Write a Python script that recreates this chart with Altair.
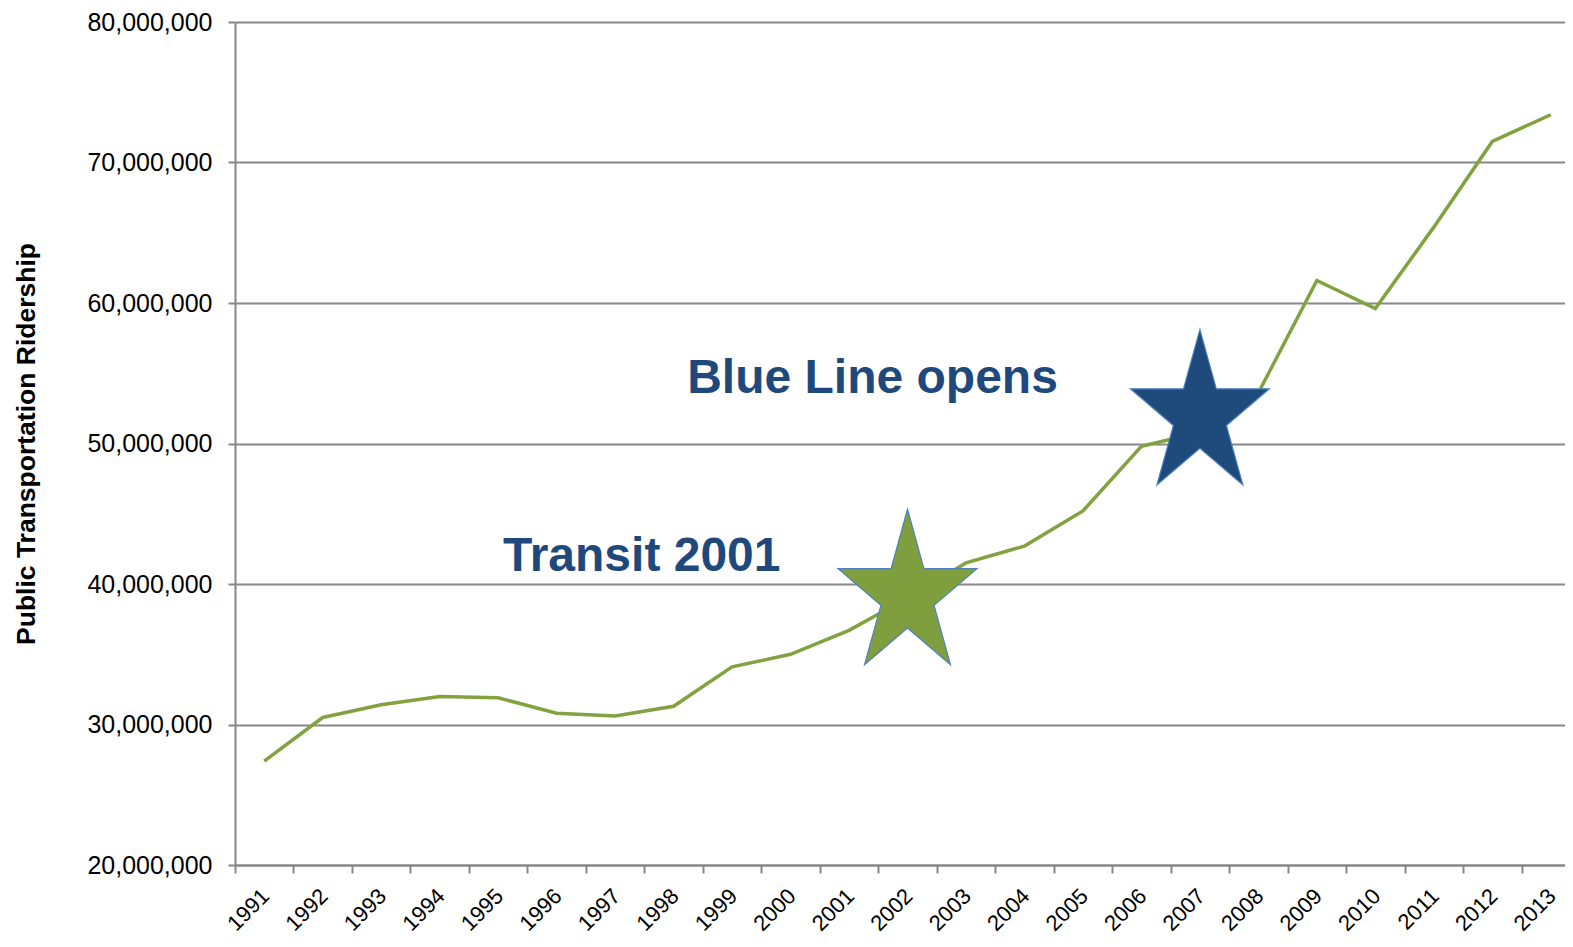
import altair as alt
import pandas as pd

# ---- data ----
years = [str(y) for y in range(1991, 2014)]
ridership = [27.4e6, 30.5e6, 31.4e6, 32.0e6, 31.9e6, 30.8e6, 30.6e6, 31.3e6,
             34.1e6, 35.0e6, 36.7e6, 39.0e6, 41.5e6, 42.7e6, 45.2e6, 49.8e6,
             50.8e6, 53.6e6, 61.6e6, 59.6e6, 65.4e6, 71.5e6, 73.4e6]

star_years = ["2002", "2007"]
star_values = [39.2e6, 52.0e6]
star_colors = ["#7F9E3D", "#1F4A7C"]

note_labels = ["Transit 2001", "Blue Line opens"]
note_years = ["2002", "2007"]
note_values = [40.9e6, 53.6e6]

y_ticks = [20e6, 30e6, 40e6, 50e6, 60e6, 70e6, 80e6]

df = pd.DataFrame({"year": years, "ridership": ridership})
stars = pd.DataFrame({"year": star_years, "value": star_values, "color": star_colors})
notes = pd.DataFrame({"label": note_labels, "year": note_years, "value": note_values})

FONT = "Liberation Sans"
GRID = "#878787"

x_scale = alt.Scale(type="band", paddingInner=0, paddingOuter=0, domain=years)
y_scale = alt.Scale(domain=[20e6, 80e6], nice=False, zero=False)

x_enc = alt.X(
    "year:O", scale=x_scale, bandPosition=0.5, title=None,
    axis=alt.Axis(
        tickBand="extent", labelAngle=-45, labelFontSize=22, labelFont=FONT,
        labelColor="black", labelPadding=12, labelOffset=-6, tickSize=8,
        tickColor=GRID, tickWidth=2, domainColor=GRID, domainWidth=2,
        grid=False, labelOverlap=False,
    ),
)

y_enc = alt.Y(
    "ridership:Q", scale=y_scale,
    title="Public Transportation Ridership",
    axis=alt.Axis(
        values=y_ticks, format=",d", labelFontSize=25, labelFont=FONT,
        labelColor="black", labelPadding=16, tickSize=7, tickColor=GRID,
        tickWidth=2, domainColor=GRID, domainWidth=2, grid=True,
        gridColor=GRID, gridWidth=2, titleFont=FONT, titleFontSize=26.5,
        titleFontWeight="bold", titleColor="black", titleX=-201,
        titleY=421.5, titleBaseline="alphabetic",
    ),
)

line = alt.Chart(df).mark_line(color="#82A240", strokeWidth=3.5).encode(
    x=x_enc, y=y_enc
)

STAR = ("M0,-1L0.191,-0.309L0.808,-0.309L0.309,0.118L0.5,0.809L0,0.382"
        "L-0.5,0.809L-0.309,0.118L-0.808,-0.309L-0.191,-0.309Z")

star_layer = alt.Chart(stars).mark_point(
    shape=STAR, size=29584, filled=True, opacity=1,
    stroke="#4F81BD", strokeWidth=1.2,
).encode(
    x=alt.X("year:O", scale=x_scale, bandPosition=0.5),
    y=alt.Y("value:Q", scale=y_scale),
    fill=alt.Color("color:N", scale=None),
)

def note(label, dx):
    return alt.Chart(notes).transform_filter(
        alt.datum.label == label
    ).mark_text(
        font=FONT, fontSize=48, fontWeight="bold", color="#1F497D",
        align="right", baseline="alphabetic", dx=dx,
    ).encode(
        x=alt.X("year:O", scale=x_scale, bandPosition=0.5),
        y=alt.Y("value:Q", scale=y_scale),
        text="label:N",
    )

chart = alt.layer(
    line, star_layer, note("Transit 2001", -127), note("Blue Line opens", -142)
).properties(
    width=1345, height=843,
    autosize=alt.AutoSizeParams(type="none"),
    padding={"left": 227, "top": 14, "right": -15, "bottom": 74},
    background="white",
).configure_view(stroke=None)

chart.save("out.html", embed_options={"renderer": "svg", "actions": False})
